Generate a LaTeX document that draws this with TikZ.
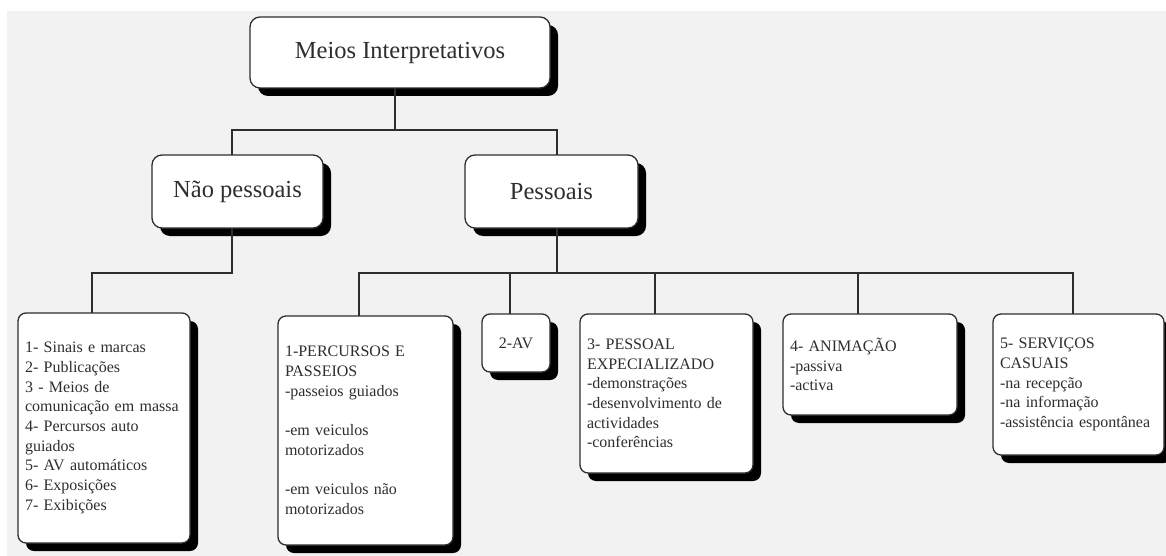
\documentclass[tikz,border=0pt]{standalone}
\usepackage{fontspec}
\setmainfont{Liberation Serif}
\usetikzlibrary{shadows,calc}
\definecolor{bg}{HTML}{F2F2F2}
\definecolor{ink}{HTML}{2E2E2E}
\begin{document}
\begin{tikzpicture}[x=1pt,y=-1pt,
  box/.style={draw=ink, line width=1.3pt, fill=white, rounded corners=10pt,
    inner sep=0pt, outer sep=0pt, text=ink,
    drop shadow={fill=black, opacity=1, shadow xshift=8pt, shadow yshift=-8pt}},
  headbox/.style={box, font=\fontsize{24.5}{28}\selectfont},
  leaf/.style={box, rounded corners=8pt, font=\fontsize{16}{19.7}\selectfont,
    align=left, inner xsep=7pt},
  link/.style={draw=ink, line width=1.4pt}
]
\useasboundingbox (0,0) rectangle (1166,556);
\fill[white] (0,0) rectangle (1166,556);
\fill[bg] (7,11) rectangle (1166,556);
\clip (0,0) rectangle (1166,556);

% top levels
\node[headbox, minimum width=300pt, minimum height=71pt] (top) at (400,52.5) {Meios Interpretativos};
\node[headbox, minimum width=171pt, minimum height=73pt] (non) at (237.5,191.5) {Não pessoais};
\node[headbox, minimum width=173pt, minimum height=73pt] (pes) at (551.5,191.5) {Pessoais};

% leaves
\node[leaf, minimum width=172pt, minimum height=230pt, text width=158pt] (b1) at (104,428)
  {1- Sinais e marcas\\2- Publicações\\3 - Meios de\\comunicação em massa\\4- Percursos auto\\guiados\\5- AV automáticos\\6- Exposições\\7- Exibições};
\node[leaf, minimum width=175pt, minimum height=229pt, text width=161pt] (perc) at (365.5,430.5)
  {1-PERCURSOS E\\PASSEIOS\\-passeios guiados\\[19.7pt]-em veiculos\\motorizados\\[19.7pt]-em veiculos não\\motorizados};
\node[leaf, minimum width=68pt, minimum height=58pt, align=center, inner xsep=0pt] (av) at (516,343) {2-AV};
\node[leaf, minimum width=173pt, minimum height=159pt, text width=159pt] (pro) at (666.5,393.5)
  {3- PESSOAL\\EXPECIALIZADO\\-demonstrações\\-desenvolvimento de\\actividades\\-conferências};
\node[leaf, minimum width=174pt, minimum height=101pt, text width=160pt] (anim) at (870,364.5)
  {4- ANIMAÇÃO\\-passiva\\-activa};
\node[leaf, minimum width=171pt, minimum height=141pt, text width=157pt] (serv) at (1078.5,384.5)
  {5- SERVIÇOS\\CASUAIS\\-na recepção\\-na informação\\-assistência espontânea};

% connectors
\coordinate (j1) at (395,130);
\draw[link] ([xshift=-5pt]top.south) -- (j1);
\draw[link] ([xshift=-5.5pt]non.north) |- (j1) -| ([xshift=5.5pt]pes.north);

\draw[link] ([xshift=-5.5pt]non.south) -- ++(0,45) -| ([xshift=-12pt]b1.north);

\draw[link] ([xshift=5.5pt]pes.south) -- ++(0,45) coordinate (j3);
\draw[link] ([xshift=-6.5pt]perc.north) |- (j3);
\draw[link] ([xshift=-6pt]av.north) |- (j3);
\draw[link] ([xshift=-11.5pt]pro.north) |- (j3);
\draw[link] ([xshift=-12pt]anim.north) |- (j3);
\draw[link] ([xshift=-5.5pt]serv.north) |- (j3);
\end{tikzpicture}
\end{document}
